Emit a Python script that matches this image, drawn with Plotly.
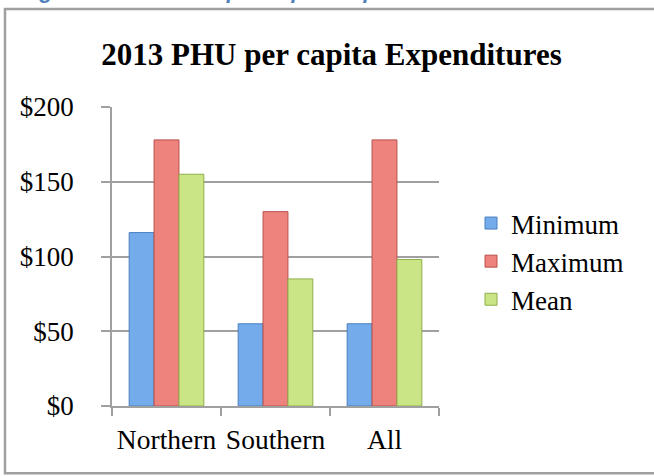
import plotly.graph_objects as go

categories = ["Northern", "Southern", "All"]
minimum = [116, 55, 55]
maximum = [178, 130, 178]
mean = [155, 85, 98]
series_names = ["Minimum", "Maximum", "Mean"]
y_ticks = [0, 50, 100, 150, 200]
title_text = "2013 PHU per capita Expenditures"
caption_text = "Figure 4: 2013 PHU per capita Expenditures"

colors = ["#74ABEB", "#EE837D", "#C9E586"]
edges = ["#4A7FBF", "#B8504B", "#8FAE4A"]

fig = go.Figure()
for name, vals, c, e in zip(series_names, [minimum, maximum, mean], colors, edges):
    fig.add_trace(go.Bar(
        x=categories, y=vals, name=name,
        marker=dict(color=c, line=dict(color=e, width=1)),
    ))

L, R, T, B = 112, 215, 107, 70
W, H = 654, 476
pw = W - L - R
ph = H - T - B

def px_x(px):
    return (px - L) / pw

def px_y(py):
    return (H - B - py) / ph

fig.update_layout(
    width=W, height=H,
    margin=dict(l=L, r=R, t=T, b=B, pad=0, autoexpand=False),
    paper_bgcolor="white",
    plot_bgcolor="white",
    barmode="group",
    bargap=0.315,
    bargroupgap=0,
    font=dict(family="Liberation Serif", size=27, color="black"),
    showlegend=True,
    legend=dict(
        x=px_x(471), y=px_y(199), xanchor="left", yanchor="top",
        font=dict(family="Liberation Serif", size=27, color="black"),
        bgcolor="rgba(0,0,0,0)",
        tracegroupgap=0,
        itemwidth=30,
    ),
    xaxis=dict(
        type="category",
        automargin=False,
        tickangle=0,
        showline=True, linecolor="#A0A0A0", linewidth=1.5,
        ticks="outside", tickson="boundaries", ticklen=8, tickcolor="#A0A0A0", tickwidth=1.5,
        showgrid=False,
        tickfont=dict(family="Liberation Serif", size=27.5, color="black"),
        ticklabelstandoff=8,
    ),
    yaxis=dict(
        range=[0, 200],
        automargin=False,
        tickvals=y_ticks,
        ticktext=["$" + str(v) for v in y_ticks],
        showline=True, linecolor="#A0A0A0", linewidth=1.5,
        ticks="outside", ticklen=9, tickcolor="#A0A0A0", tickwidth=1.5,
        showgrid=True, gridcolor="#A0A0A0", gridwidth=1.5,
        zeroline=False,
        tickfont=dict(family="Liberation Serif", size=27, color="black"),
        ticklabelstandoff=22,
    ),
    title=dict(
        text="<b>" + title_text + "</b>",
        x=331.5 / W, xanchor="center",
        y=1 - 54 / H, yanchor="middle",
        font=dict(family="Liberation Serif", size=31, color="black"),
    ),
)

# chart frame
fig.add_shape(
    type="rect", xref="paper", yref="paper",
    x0=px_x(5), x1=px_x(670), y0=px_y(473.3), y1=px_y(9),
    line=dict(color="#A0A0A0", width=2.5), fillcolor="rgba(0,0,0,0)",
    layer="below",
)

# caption above the chart, mostly cut off by the top edge as in the reference
fig.add_annotation(
    text="<b><i>" + caption_text + "</i></b>",
    xref="paper", yref="paper",
    x=px_x(18), y=px_y(5), xanchor="left", yanchor="bottom",
    showarrow=False,
    font=dict(family="Liberation Sans", size=22, color="#4F81BD"),
)

fig.write_html(
    "out.html",
    config={"displayModeBar": False},
    post_script="document.body.style.margin='0';",
)
